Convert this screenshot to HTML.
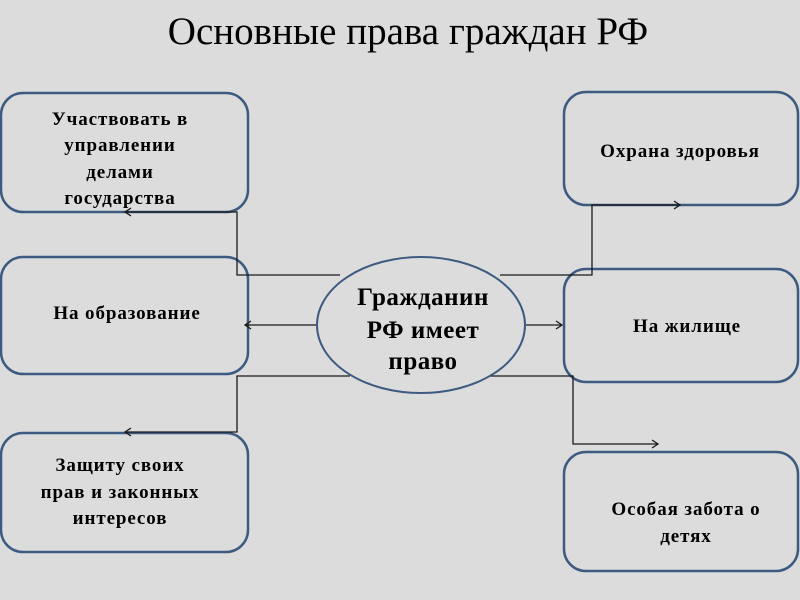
<!DOCTYPE html>
<html><head><meta charset="utf-8"><style>
html,body{margin:0;padding:0;background:#dcdcdc;}
svg{display:block}
text{font-family:"Liberation Serif","DejaVu Serif",serif;fill:#000;}
.b{font-weight:bold;font-size:19px;letter-spacing:0.9px;}
</style></head><body>
<svg width="800" height="600" viewBox="0 0 800 600">
<rect width="800" height="600" fill="#dcdcdc"/>
<text x="408" y="44" text-anchor="middle" font-size="39">Основные права граждан РФ</text>
<g fill="#dcdcdc" stroke="#3d5a80" stroke-width="2.5">
<rect x="1" y="93" width="247" height="119" rx="22"/>
<rect x="1" y="257" width="247" height="117" rx="22"/>
<rect x="1" y="433" width="247" height="119" rx="22"/>
<rect x="564" y="92" width="234" height="113" rx="22"/>
<rect x="564" y="269" width="234" height="113" rx="22"/>
<rect x="564" y="452" width="234" height="119" rx="22"/>
</g>
<g fill="none" stroke="#1a1a1a" stroke-width="1.3">
<polyline points="340,275 237,275 237,212 125,212"/>
<polyline points="131,208 125,212 131,216"/>
<line x1="318" y1="325" x2="245" y2="325"/>
<polyline points="251,321 245,325 251,329"/>
<polyline points="350,376 237,376 237,432 125,432"/>
<polyline points="131,428 125,432 131,436"/>
<polyline points="500,275 592,275 592,205 680,205"/>
<polyline points="674,201 680,205 674,209"/>
<line x1="526" y1="325" x2="562" y2="325"/>
<polyline points="556,321 562,325 556,329"/>
<polyline points="488,376 573,376 573,444 658,444"/>
<polyline points="652,440 658,444 652,448"/>
</g>
<ellipse cx="421" cy="325" rx="104" ry="68" fill="#dcdcdc" stroke="#3d5a80" stroke-width="2"/>
<g class="b" text-anchor="middle">
<text x="120" y="125">Участвовать в</text>
<text x="120" y="151">управлении</text>
<text x="120" y="178">делами</text>
<text x="120" y="204">государства</text>
<text x="127" y="319">На образование</text>
<text x="120" y="471">Защиту своих</text>
<text x="120" y="498">прав и законных</text>
<text x="120" y="524">интересов</text>
<text x="680" y="157">Охрана здоровья</text>
<text x="687" y="332">На жилище</text>
<text x="686" y="515">Особая забота о</text>
<text x="686" y="542">детях</text>
</g>
<g text-anchor="middle" font-weight="bold" font-size="25" letter-spacing="0.5">
<text x="423" y="305">Гражданин</text>
<text x="423" y="338">РФ имеет</text>
<text x="423" y="369">право</text>
</g>
</svg>
</body></html>
